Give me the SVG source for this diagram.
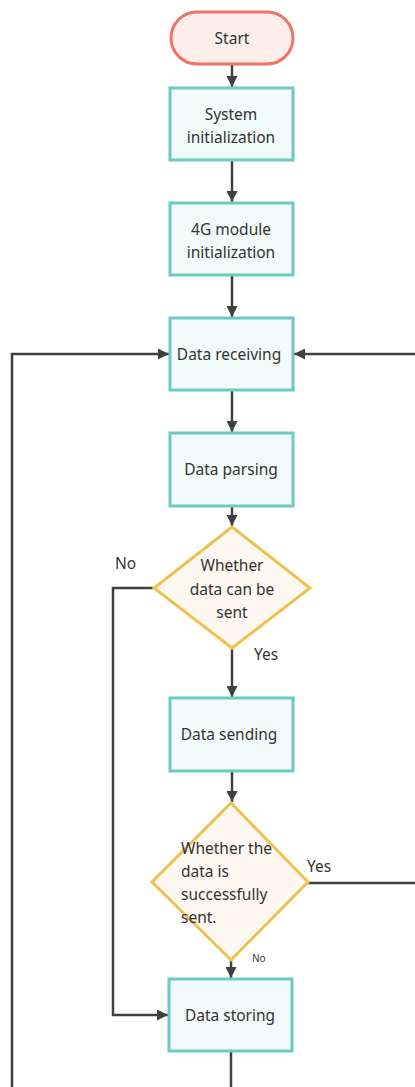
<svg xmlns="http://www.w3.org/2000/svg" width="415" height="1087" viewBox="0 0 415 1087">
<style>
.box{fill:#f3fafa;stroke:#6ccac1;stroke-width:3}
.dia{fill:#fdf8f1;stroke:#efc14f;stroke-width:3}
.start{fill:#fdeeec;stroke:#f07367;stroke-width:3}
.t{font-family:"Noto Sans","Open Sans",sans-serif;font-size:15.5px;fill:#333333}
.c{text-anchor:middle}
.ln{fill:none;stroke:#404040;stroke-width:2.5}
</style>
<defs>
<marker id="ah" viewBox="0 0 10 10" refX="10" refY="5" markerWidth="11" markerHeight="11" orient="auto" markerUnits="userSpaceOnUse">
<path d="M0,0 L10,5 L0,10 z" fill="#404040"/>
</marker>
</defs>
<g id="connectors">
<path class="ln" d="M232,64 V87" marker-end="url(#ah)"/>
<path class="ln" d="M232,160 V202" marker-end="url(#ah)"/>
<path class="ln" d="M232,275 V317" marker-end="url(#ah)"/>
<path class="ln" d="M232,390 V432" marker-end="url(#ah)"/>
<path class="ln" d="M232,506 V526" marker-end="url(#ah)"/>
<path class="ln" d="M232,648 V697" marker-end="url(#ah)"/>
<path class="ln" d="M232,771 V802" marker-end="url(#ah)"/>
<path class="ln" d="M231,960 V978" marker-end="url(#ah)"/>
<path class="ln" d="M154,588 H113 V1015 H168" marker-end="url(#ah)"/>
<path class="ln" d="M12,1087 V354 H169" marker-end="url(#ah)"/>
<path class="ln" d="M308,883 H415 M415,354 H294" marker-end="url(#ah)"/>
<path class="ln" d="M231,1051 V1087"/>
</g>
<g id="start"><rect class="start" x="171" y="12" width="122" height="52" rx="26"/><text class="t c" x="232" y="44">Start</text></g>
<g id="sysinit"><rect class="box" x="170" y="88" width="123" height="72"/><text class="t c" x="231" y="120">System</text><text class="t c" x="231" y="143">initialization</text></g>
<g id="init4g"><rect class="box" x="170" y="203" width="123" height="72"/><text class="t c" x="231" y="235">4G module</text><text class="t c" x="231" y="258">initialization</text></g>
<g id="receiving"><rect class="box" x="170" y="318" width="123" height="72"/><text class="t c" x="229" y="360">Data receiving</text></g>
<g id="parsing"><rect class="box" x="170" y="433" width="123" height="73"/><text class="t c" x="231" y="475">Data parsing</text></g>
<g id="whether1"><path class="dia" d="M232,527 L310,588 L232,648 L154,588 Z"/><text class="t c" x="232" y="571">Whether</text><text class="t c" x="232" y="595">data can be</text><text class="t c" x="232" y="618">sent</text></g>
<g id="sending"><rect class="box" x="170" y="698" width="123" height="73"/><text class="t c" x="229" y="740">Data sending</text></g>
<g id="whether2"><path class="dia" d="M231,803 L308,882 L231,960 L152,882 Z"/><text class="t" x="181" y="854">Whether the</text><text class="t" x="181" y="877">data is</text><text class="t" x="181" y="900">successfully</text><text class="t" x="181" y="923">sent.</text></g>
<g id="storing"><rect class="box" x="169" y="979" width="123" height="72"/><text class="t c" x="230" y="1021">Data storing</text></g>
<g id="labels">
<text class="t" x="115" y="569">No</text>
<text class="t" x="254" y="660">Yes</text>
<text class="t" x="307" y="872">Yes</text>
<text class="t" x="252" y="962" style="font-size:10px">No</text>
</g>
</svg>
